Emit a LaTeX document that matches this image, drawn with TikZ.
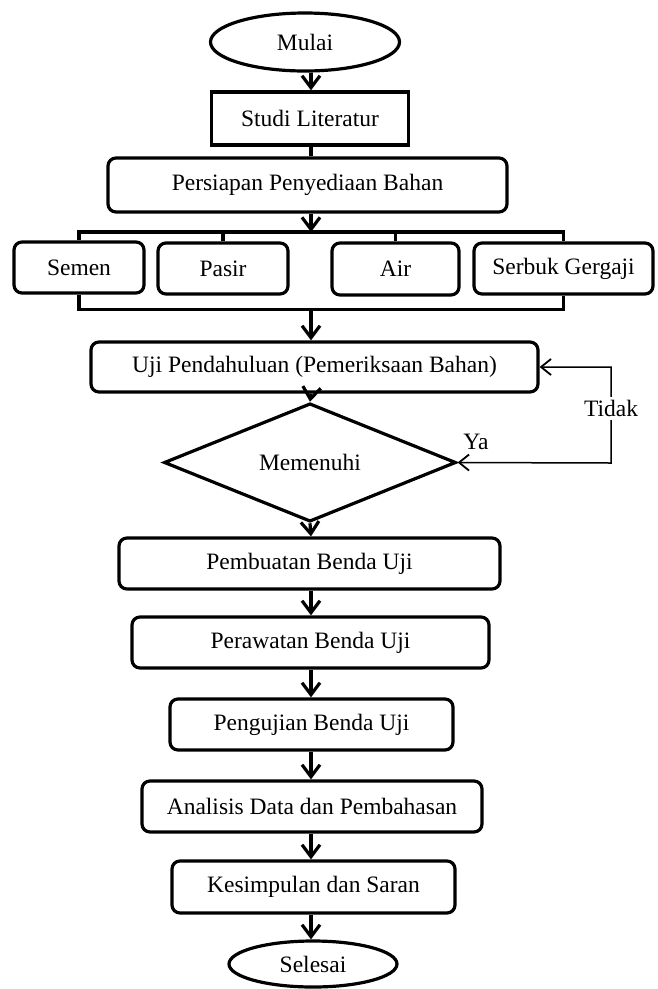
\documentclass[tikz,border=0pt]{standalone}
\usepackage{fontspec}
\setmainfont{Liberation Serif}
\usetikzlibrary{shapes.geometric,arrows.meta}
\begin{document}
\begin{tikzpicture}[x=1pt,y=-1pt,
  every node/.style={font=\fontsize{23.5}{27}\selectfont},
  lw/.style={line width=3.2pt},
  box/.style={lw,draw,rounded corners=8pt,inner sep=0pt,align=center},
  sharpbox/.style={lw,draw,inner sep=0pt,align=center},
  term/.style={lw,draw,ellipse,inner sep=0pt},
  arr/.style={lw,-{Straight Barb[length=12pt,width=18pt,line width=3.2pt]}},
  fbarr/.style={line width=1.5pt,{Straight Barb[length=10pt,width=16pt,line width=1.8pt]}-{Straight Barb[length=10pt,width=16pt,line width=1.8pt]}}
]
\useasboundingbox (0,0) rectangle (658,989);
\coordinate (axis) at (311,0);
\coordinate (tb) at (0,232);
\coordinate (bb) at (0,309.5);

\node[term,minimum width=189pt,minimum height=58pt] (mulai) at (305,42) {Mulai};
\node[sharpbox,minimum width=197pt,minimum height=53pt] (studi) at (310,118.5) {Studi Literatur};
\node[box,minimum width=399pt,minimum height=54pt] (pers) at (307.5,185) {Persiapan Penyediaan Bahan};

\node[box,minimum width=130pt,minimum height=51pt] (semen) at (79,267.5) {Semen};
\node[box,minimum width=130pt,minimum height=51pt] (pasir) at (223,268.5) {Pasir};
\node[box,minimum width=127pt,minimum height=52pt] (air) at (395.5,269) {Air};
\node[box,minimum width=179pt,minimum height=51pt] (serbuk) at (563.5,268.5) {Serbuk Gergaji};

\node[box,minimum width=447pt,minimum height=50pt] (uji) at (314.5,367) {Uji Pendahuluan (Pemeriksaan Bahan)};
\node[lw,draw,diamond,inner sep=0pt,minimum width=292pt,minimum height=81pt] (dia) at (310,462.5) {Memenuhi};

\node[box,minimum width=381pt,minimum height=51pt] (buat) at (309.5,563.5) {Pembuatan Benda Uji};
\node[box,minimum width=357pt,minimum height=51pt] (rawat) at (310.5,642.5) {Perawatan Benda Uji};
\node[box,minimum width=283pt,minimum height=51pt] (uji2) at (311.5,724.5) {Pengujian Benda Uji};
\node[box,minimum width=340pt,minimum height=51pt] (anal) at (312,806.5) {Analisis Data dan Pembahasan};
\node[box,minimum width=283pt,minimum height=52pt] (kes) at (313.5,887) {Kesimpulan dan Saran};
\node[term,minimum width=168pt,minimum height=46pt] (sel) at (313,964) {Selesai};

% main flow
\draw[arr] (axis |- mulai.south) -- (axis |- studi.north);
\draw[lw] (axis |- studi.south) -- (axis |- pers.north);
\draw[arr] (axis |- pers.south) -- (axis |- tb);

% top bus
\draw[lw,line join=miter] (semen.north) -- (semen.north |- tb) -- (serbuk.north |- tb) -- (serbuk.north);
\draw[lw] (pasir.north) -- (pasir.north |- tb);
\draw[lw] (air.north) -- (air.north |- tb);
% bottom bus
\draw[lw,line join=miter] (semen.south) -- (semen.south |- bb) -- (serbuk.south |- bb) -- (serbuk.south);
\draw[arr] (axis |- bb) -- (axis |- uji.north);

\draw[arr] (axis |- uji.south) -- (dia.north);
\draw[arr] (dia.south) -- (axis |- buat.north);
\draw[arr] (axis |- buat.south) -- (axis |- rawat.north);
\draw[arr] (axis |- rawat.south) -- (axis |- uji2.north);
\draw[arr] (axis |- uji2.south) -- (axis |- anal.north);
\draw[arr] (axis |- anal.south) -- (axis |- kes.north);
\draw[arr] (axis |- kes.south) -- (axis |- sel.north);

% feedback
\coordinate (fb1) at (611,367);
\coordinate (fb2) at (611,463);
\draw[fbarr,line join=miter] (uji.east) -- (fb1) -- node[pos=0.43,fill=white,inner sep=3pt] (tidak) {Tidak} (fb2) -- (dia.east);
\node (ya) at (476,442) {Ya};
\end{tikzpicture}
\end{document}
